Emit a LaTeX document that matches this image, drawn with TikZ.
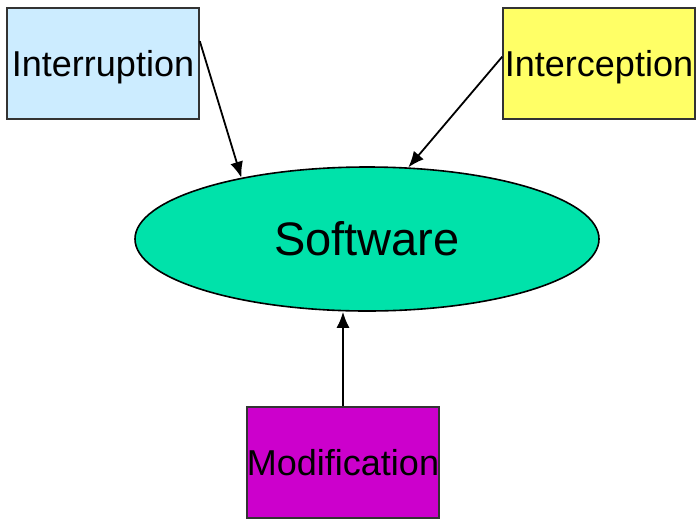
\documentclass[tikz,border=0pt]{standalone}
\usepackage{fontspec}
\setmainfont{Liberation Sans}
\usetikzlibrary{shapes.geometric, arrows.meta}
\definecolor{paleblue}{HTML}{CCECFF}
\definecolor{paleyellow}{HTML}{FFFF66}
\definecolor{seagreen}{HTML}{00E2AA}
\definecolor{magenta80}{HTML}{CC00CC}
\definecolor{black80}{HTML}{333333}

\begin{document}
\begin{tikzpicture}[
    x=1pt, y=-1pt,
    threat/.style={rectangle, draw=black80, line width=1.6pt, minimum width=192pt, minimum height=111pt, inner sep=0pt, text depth=0pt, font=\fontsize{36}{43}\selectfont},
    asset/.style={ellipse, draw=black, line width=1.6pt, minimum width=464pt, minimum height=144pt, inner sep=0pt, font=\fontsize{47}{56}\selectfont},
    >={Latex[length=16pt, width=13pt]}
]
    \useasboundingbox (0,0) rectangle (698,520);

    \node[asset, fill=seagreen] (sw) at (367,239) {Software};
    \node[threat, fill=paleblue] (intr) at (103,63.5) {Interruption};
    \node[threat, fill=paleyellow] (icpt) at (599,63.5) {Interception};
    \node[threat, fill=magenta80] (mod) at (343,462.5) {Modification};

    \draw[->, line width=1.8pt] (intr.13.8) -- (sw.154.6);
    \draw[->, line width=1.8pt] (icpt.176) -- (sw.60.7);
    \draw[->, line width=1.8pt] (mod.north) -- (mod.north |- sw.south);
\end{tikzpicture}
\end{document}
